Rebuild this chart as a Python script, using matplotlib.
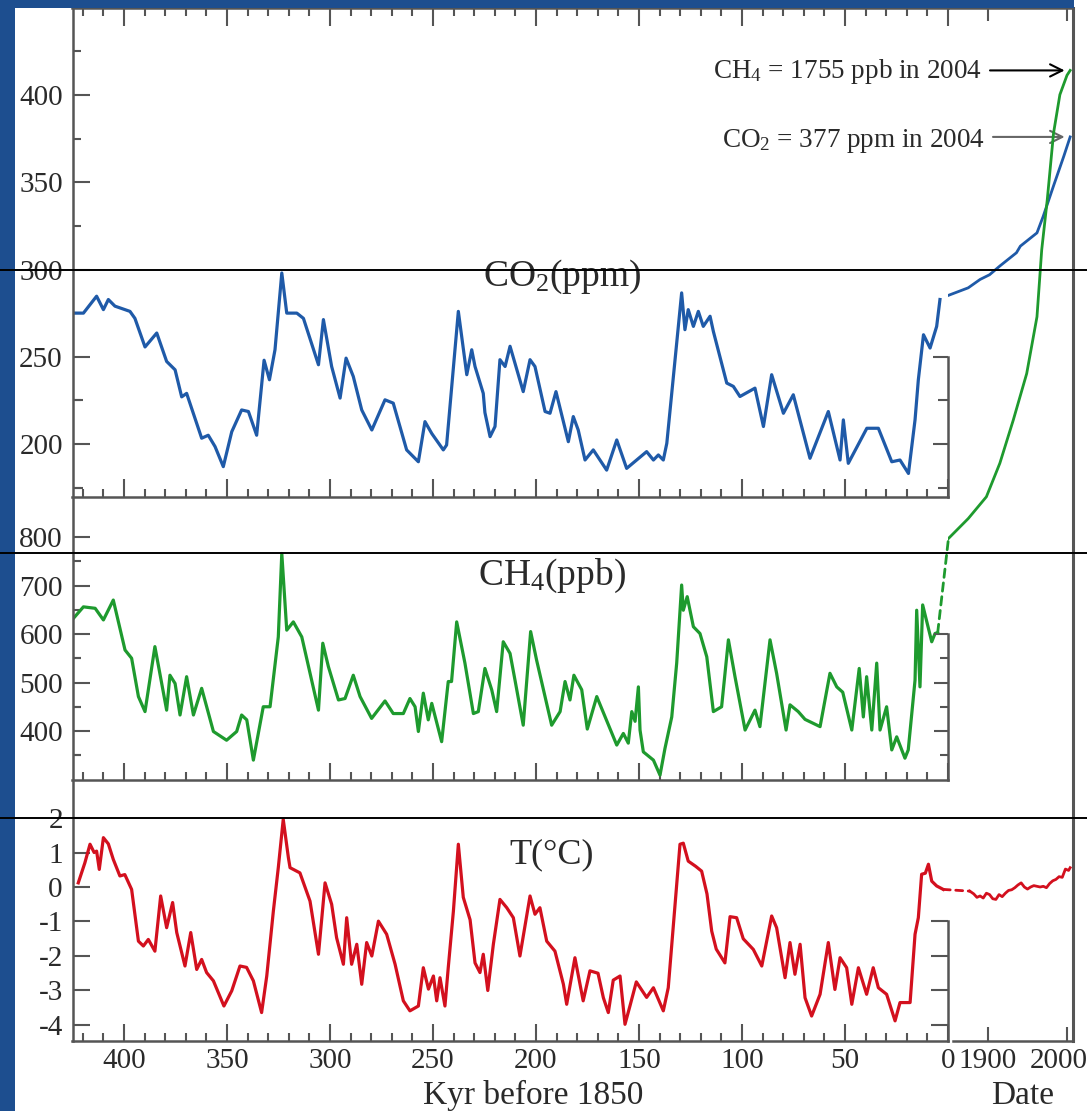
import matplotlib
matplotlib.use('Agg')
import matplotlib.pyplot as plt
from matplotlib.patches import Rectangle, ConnectionPatch
from matplotlib.lines import Line2D
from matplotlib.transforms import ScaledTranslation
from matplotlib.ticker import MultipleLocator, FixedLocator, FormatStrFormatter

plt.rcParams['font.family'] = ['Liberation Serif', 'DejaVu Serif']
plt.rcParams['mathtext.fontset'] = 'custom'
plt.rcParams['mathtext.rm'] = 'Liberation Serif'
plt.rcParams['mathtext.default'] = 'regular'
plt.rcParams['axes.unicode_minus'] = False

# ---------------- data ----------------
co2_kyr = [424.6, 419.7, 413.3, 410, 407.6, 404.4, 397.1, 394.7, 389.8, 384.1, 379.3, 375.2, 372, 369.6,
           362.3, 359.1, 355.8, 351.8, 347.7, 342.9, 339.6, 335.6, 332, 329.4, 326.7, 323.4, 321, 316.1,
           312.9, 305.6, 303.2, 299.2, 295.1, 292.2, 288.7, 284.6, 279.7, 273.3, 269.3, 262.8, 257.1,
           253.9, 250.6, 245, 243.4, 237.7, 233.6, 231.2, 229.6, 225.6, 224.8, 222.3, 219.9, 217.5, 215,
           212.6, 206.2, 202.9, 200.5, 195.6, 193.2, 190.3, 184.3, 181.9, 179.5, 176.2, 172.2, 165.7,
           160.8, 156, 146.3, 143, 140.6, 138.2, 136.5, 129.3, 127.7, 126.1, 123.6, 121.2, 118.8, 115.5,
           113.9, 107.4, 104.2, 101, 93.7, 89.6, 85.6, 79.9, 75.1, 67, 58.1, 52.4, 50.8, 48.4, 39.4, 33.8,
           27.3, 23.3, 19.2, 16, 14.4, 11.9, 8.7, 5.5, 3.9]
co2_ppm = [275, 275, 284.7, 277, 282.8, 279, 276, 272, 255.6, 263.6, 247.3, 242.5, 227, 229,
           203.3, 205, 198.5, 187, 207, 219.5, 218.6, 205, 248, 236.8, 254, 298, 275, 275,
           272, 245.4, 271.3, 244.4, 226.3, 249.2, 238.7, 219.5, 208, 225.3, 223.4, 196.6, 189.8,
           212.8, 206, 196.6, 199.4, 276, 239.7, 254, 244.4, 229, 218, 204.2, 210, 248.3, 244.4,
           256, 230, 248.3, 244.4, 218.6, 217.6, 230, 201.3, 215.7, 208, 190.8, 196.6, 185,
           202.3, 186, 195.6, 190.8, 193.7, 190.8, 200.4, 286.6, 265.5, 277, 267.4, 276, 267.4, 273.2,
           264.5, 234.9, 233, 227.2, 232, 210, 239.7, 217.6, 228.2, 191.8, 218.6, 190.8, 213.8, 188.9, 209, 209,
           189.8, 190.8, 183.1, 213.8, 236.8, 262.6, 255, 267.4, 282.8]

ch4_kyr = [424.6, 419.7, 414, 410, 405.2, 399.5, 396.3, 393, 389.8, 385, 379.3, 377.7, 375.2, 372.8,
           369.6, 366.3, 362.3, 356.6, 350.2, 345.3, 342.9, 340.4, 337.2, 332.4, 329.1, 325.1, 323.4,
           321, 317.8, 313.7, 305.6, 303.5, 300.8, 295.9, 292.7, 288.7, 285.4, 279.8, 273.3, 269.3,
           264.4, 261.2, 258.7, 257.1, 254.7, 252.3, 250.6, 245.8, 242.6, 241, 238.5, 234.5, 230.4,
           228, 224.8, 221.5, 219.1, 215.9, 212.6, 210.2, 206.2, 202.6, 199.7, 192.4, 188.3, 185.9,
           183.5, 181.6, 177.8, 175.1, 170.5, 160.8, 157.6, 155.2, 153.5, 151.9, 150.3, 149.5, 147.9,
           143, 139.8, 137.4, 134.1, 131.7, 129.3, 128.5, 126.6, 123.6, 120.4, 117.1, 113.9, 109.9,
           106.6, 103.4, 98.5, 93.7, 91.3, 86.4, 83.2, 78.6, 76.7, 72.7, 69.4, 62.1, 57.3, 54, 51.1,
           46.7, 43.1, 41.1, 39.5, 37, 34.6, 33, 29.8, 27.3, 24.9, 20.9, 19.3, 16, 15.2, 13.6, 12.3,
           7.9, 6.3, 5.0]
ch4_ppb = [632, 656, 653, 629, 670, 567, 550, 471, 440, 574, 443, 515, 498, 433,
           512, 433, 488, 399, 381, 399, 433, 423, 340, 450, 450, 594, 766,
           608, 625, 594, 443, 581, 533, 464, 467, 515, 471, 426, 462, 436,
           436, 467, 450, 399, 478, 423, 457, 378, 502, 502, 625, 540, 436,
           440, 529, 485, 440, 584, 560, 505, 412, 605, 546, 412, 440, 502,
           464, 515, 485, 404, 471, 371, 395, 375, 440, 420, 491, 402, 357,
           340, 309, 364, 429, 540, 701, 649, 677, 615, 601, 553, 440, 450,
           588, 512, 402, 443, 409, 588, 519, 402, 454, 440, 424, 409, 519, 491, 480,
           402, 529, 429, 512, 402, 540, 402, 450, 361, 388, 344, 361, 505, 649, 491, 660,
           584, 601, 603]

t_kyr = [422.2, 419, 416.5, 414.5, 413.3, 412, 410, 407.6, 405.2, 402, 399.6, 396.3, 393, 390.6,
         388.2, 385, 382.2, 379.3, 376.4, 374.4, 370.4, 367.6, 364.7, 362.3, 359.9, 356.6, 351.5,
         347.7, 343.7, 340.5, 337.2, 333.2, 330.7, 327.5, 325.1, 322.7, 320.2, 319.4, 314.6, 309.7,
         305.6, 302.4, 299.2, 296.8, 293.5, 291.9, 289.5, 287, 284.6, 282.2, 279.7, 276.5, 272.5,
         268.4, 264.4, 261.2, 257.1, 254.7, 252.2, 249.8, 248.2, 246.6, 244.2, 242.6, 240.1, 237.7,
         235.3, 232, 229.6, 227.2, 225.6, 223.4, 220.7, 217.5, 214.2, 211, 207.8, 202.9, 200.5,
         198.1, 194.8, 190.8, 186.7, 185.1, 181.1, 177.1, 173.8, 169.9, 167.3, 164.9, 162.5, 159.2,
         156.8, 154.4, 151.3, 146.3, 143, 138.2, 135.8, 130.1, 128.5, 126.1, 122.5, 119.6, 117,
         114.7, 112.5, 108.3, 105.8, 102.6, 99.4, 94.5, 90.4, 85.6, 83.2, 79.1, 76.7, 74.3, 71.8,
         69.4, 66.2, 62.1, 58.1, 54.9, 52.4, 49.2, 46.7, 43.5, 39.5, 36.3, 33.8, 29.8, 25.7, 23.3,
         18.4, 16, 14.4, 12.8, 11, 9.5, 7.9, 5.5, 2.3]
t_degc = [0.12, 0.7, 1.24, 1.0, 1.04, 0.51, 1.43, 1.25, 0.8, 0.32, 0.36, -0.07, -1.57, -1.71,
          -1.52, -1.86, -0.26, -1.18, -0.45, -1.32, -2.29, -1.32, -2.39, -2.1, -2.48, -2.72, -3.45,
          -3.01, -2.29, -2.33, -2.72, -3.64, -2.58, -0.7, 0.56, 1.96, 0.85, 0.56, 0.41, -0.41,
          -1.95, 0.12, -0.5, -1.47, -2.24, -0.89, -2.24, -1.66, -2.82, -1.61, -2.0, -0.99, -1.37,
          -2.24, -3.3, -3.59, -3.45, -2.34, -2.96, -2.58, -3.3, -2.63, -3.45, -2.34, -0.7, 1.24,
          -0.3, -0.95, -2.2, -2.48, -1.95, -3.0, -1.66, -0.36, -0.6, -0.89, -2.0, -0.26, -0.79,
          -0.6, -1.57, -1.86, -2.82, -3.4, -2.05, -3.3, -2.43, -2.5, -3.21, -3.64, -2.7, -2.58,
          -3.98, -3.45, -2.75, -3.2, -2.92, -3.59, -2.92, 1.24, 1.27, 0.75, 0.6, 0.46, -0.2,
          -1.28, -1.8, -2.2, -0.86, -0.89, -1.5, -1.81, -2.29, -0.84, -1.18, -2.63, -1.61, -2.53, -1.66,
          -3.21, -3.74, -3.11, -1.61, -2.97, -2.05, -2.34, -3.4, -2.34, -3.11, -2.34, -2.92, -3.11, -3.88, -3.35,
          -3.35, -1.37, -0.89, 0.37, 0.4, 0.66, 0.17, 0.03, -0.07]

co2_year = [1850, 1875, 1890, 1902, 1915, 1936, 1941, 1962, 1970, 1983, 1996, 2004]
co2_modern = [285.2, 289.5, 294.3, 297, 302, 309.6, 313.4, 321, 330.6, 348, 365, 376]

ch4_year = [1850, 1875, 1898, 1915, 1932, 1949, 1962, 1968, 1975, 1983, 1991, 2000, 2004]
ch4_modern = [797, 838, 883, 952, 1041, 1137, 1254, 1392, 1495, 1633, 1712, 1752, 1762]

t_year = [1877, 1882, 1886, 1890, 1894, 1898, 1902, 1906, 1910, 1914, 1918, 1922, 1926, 1930,
          1934, 1938, 1942, 1946, 1950, 1954, 1958, 1962, 1966, 1970, 1974, 1978, 1982, 1986,
          1990, 1994, 1998, 2002, 2004]
t_modern = [-0.12, -0.2, -0.3, -0.26, -0.32, -0.18, -0.22, -0.34, -0.36, -0.22, -0.28, -0.18, -0.1, -0.08,
            -0.02, 0.06, 0.12, 0.0, -0.06, 0.0, 0.04, 0.02, 0.0, 0.02, -0.02, 0.1, 0.18, 0.22,
            0.3, 0.28, 0.52, 0.48, 0.56]

kyr_labels = ['0', '50', '100', '150', '200', '250', '300', '350', '400']
date_labels = ['1900', '2000']

# ---------------- styling ----------------
BLUE_BG = '#1d4e8f'
C_CO2 = '#1f5aa8'
C_CH4 = '#1e9a2e'
C_T = '#d3101e'
SPINE = '#555555'
TXT = '#2a2a2a'
FS_TICK = 21

W, H = 1087, 1111
fig = plt.figure(figsize=(W / 100, H / 100), dpi=100)
fig.patch.set_facecolor('white')


def fx(x):
    return x / W


def fy(y):
    return 1 - y / H


def make_ax(x0, x1, y0, y1):
    ax = fig.add_axes([fx(x0), fy(y1), (x1 - x0) / W, (y1 - y0) / H])
    ax.patch.set_visible(False)
    for s in ax.spines.values():
        s.set_visible(False)
        s.set_color(SPINE)
        s.set_linewidth(1.8)
    ax.tick_params(which='both', direction='in', colors=SPINE, labelcolor=TXT,
                   labelsize=FS_TICK, width=1.5)
    ax.tick_params(which='major', length=12)
    ax.tick_params(which='minor', length=6)
    ax.tick_params(left=False, bottom=False, top=False, right=False,
                   labelleft=False, labelbottom=False)
    return ax


fig.patches.append(Rectangle((0, 0), fx(15), 1, transform=fig.transFigure,
                             facecolor=BLUE_BG, edgecolor='none', zorder=0))
fig.patches.append(Rectangle((0, fy(8)), fx(1074), 8 / H, transform=fig.transFigure,
                             facecolor=BLUE_BG, edgecolor='none', zorder=0))

KX0, KX1 = 72.5, 948
DX0, DX1 = 948, 1073
KYR_LIM = (425, 0)
DATE_LIM = (1849.4, 2007.6)
CO2_LIM = (169.6, 449.9)
CH4_LIM = (299, 1890.7)
T_LIM = (-4.464, 25.48)


def kyr_xticks(ax, where, labels=False):
    ax.xaxis.set_major_locator(MultipleLocator(50))
    ax.xaxis.set_minor_locator(MultipleLocator(10))
    if where == 'top':
        ax.tick_params(axis='x', which='both', top=True, labeltop=False)
        ax.tick_params(axis='x', which='major', length=13)
    else:
        ax.tick_params(axis='x', which='both', bottom=True, labelbottom=labels, pad=5)


def bracket(rect, ylim, major, minor, bounds, mlen, nlen):
    b = make_ax(*rect)
    b.set_xlim(KYR_LIM)
    b.set_ylim(ylim)
    b.spines['right'].set_visible(True)
    b.spines['right'].set_bounds(*bounds)
    b.yaxis.set_major_locator(FixedLocator(major))
    b.yaxis.set_minor_locator(FixedLocator(minor))
    b.tick_params(axis='y', which='both', right=True, labelright=False)
    b.tick_params(axis='y', which='major', length=mlen)
    b.tick_params(axis='y', which='minor', length=nlen)
    b.set_xticks([])
    return b


# ---- CO2 (ice core) ----
ax_co2 = make_ax(KX0, KX1, 8, 497)
ax_co2.set_xlim(KYR_LIM)
ax_co2.set_ylim(CO2_LIM)
ax_co2.spines['top'].set_visible(True)
ax_co2.spines['bottom'].set_visible(True)
kyr_xticks(ax_co2, 'top')
kyr_xticks(ax_co2, 'bottom')
ax_co2.yaxis.set_major_locator(FixedLocator([200, 250, 300, 350, 400]))
ax_co2.yaxis.set_minor_locator(FixedLocator([175, 225, 275, 325, 375, 425]))
ax_co2.yaxis.set_major_formatter(FormatStrFormatter('%d'))
ax_co2.tick_params(axis='y', which='both', left=True, labelleft=True, pad=7)
ax_co2.plot(co2_kyr, co2_ppm, color=C_CO2, lw=2.3, solid_joinstyle='round')
bracket((KX0, KX1, 8, 497), CO2_LIM, [200, 250], [175, 225], (CO2_LIM[0], 250), 11, 7)

# ---- CH4 (ice core) ----
ax_ch4 = make_ax(KX0, KX1, 8, 780)
ax_ch4.set_xlim(KYR_LIM)
ax_ch4.set_ylim(CH4_LIM)
ax_ch4.spines['bottom'].set_visible(True)
kyr_xticks(ax_ch4, 'bottom')
ax_ch4.yaxis.set_major_locator(FixedLocator([400, 500, 600, 700, 800]))
ax_ch4.yaxis.set_minor_locator(FixedLocator([350, 450, 550, 650, 750]))
ax_ch4.yaxis.set_major_formatter(FormatStrFormatter('%d'))
ax_ch4.tick_params(axis='y', which='both', left=True, labelleft=True, pad=7)
ax_ch4.plot(ch4_kyr, ch4_ppb, color=C_CH4, lw=2.3, solid_joinstyle='round')
bracket((KX0, KX1, 8, 780), CH4_LIM, [400, 500, 600], [350, 450, 550], (CH4_LIM[0], 600), 10, 6)

# ---- T (ice core) ----
ax_t = make_ax(KX0, KX1, 8, 1041)
ax_t.set_xlim(KYR_LIM)
ax_t.set_ylim(T_LIM)
ax_t.spines['left'].set_visible(True)
ax_t.spines['bottom'].set_visible(True)
kyr_xticks(ax_t, 'bottom', labels=True)
ax_t.set_xticks(range(0, 401, 50))
ax_t.set_xticklabels(kyr_labels)
ax_t.yaxis.set_major_locator(FixedLocator([-4, -3, -2, -1, 0, 1, 2]))
ax_t.yaxis.set_major_formatter(FormatStrFormatter('%d'))
ax_t.tick_params(axis='y', which='major', left=True, labelleft=True, pad=7)
ax_t.plot(t_kyr, t_degc, color=C_T, lw=2.3, solid_joinstyle='round')
bracket((KX0, KX1, 8, 1041), T_LIM, [-4, -3, -2, -1], [], (T_LIM[0], -1), 12, 6)

# ---- modern (date) panels ----
ax_co2d = make_ax(DX0, DX1, 8, 497)
ax_co2d.set_xlim(DATE_LIM)
ax_co2d.set_ylim(CO2_LIM)
ax_co2d.spines['top'].set_visible(True)
ax_co2d.set_xticks([1900, 2000])
ax_co2d.tick_params(axis='x', which='major', top=True, labeltop=False, length=9)
ax_co2d.set_yticks([])
ax_co2d.plot(co2_year, co2_modern, color=C_CO2, lw=2.0)

ax_ch4d = make_ax(DX0, DX1, 8, 780)
ax_ch4d.set_xlim(DATE_LIM)
ax_ch4d.set_ylim(CH4_LIM)
ax_ch4d.set_xticks([])
ax_ch4d.set_yticks([])
ax_ch4d.plot(ch4_year, ch4_modern, color=C_CH4, lw=2.0)

ax_td = make_ax(DX0, DX1, 8, 1041)
ax_td.set_xlim(DATE_LIM)
ax_td.set_ylim(T_LIM)
ax_td.spines['right'].set_visible(True)
ax_td.spines['right'].set_linewidth(2.2)
ax_td.spines['bottom'].set_visible(True)
ax_td.spines['bottom'].set_bounds(1855.7, DATE_LIM[1])
ax_td.set_xticks([1900, 2000])
ax_td.set_xticklabels(date_labels)
ax_td.tick_params(axis='x', which='major', bottom=True, labelbottom=True, length=10, pad=5)
ax_td.set_yticks([])
ax_td.plot(t_year, t_modern, color=C_T, lw=2.0)
# keep the last date label inside the picture
lab2000 = ax_td.get_xticklabels()[1]
lab2000.set_transform(lab2000.get_transform() + ScaledTranslation(-6 / 72, 0, fig.dpi_scale_trans))

# dashed links between ice core and modern records
fig.add_artist(ConnectionPatch(xyA=(ch4_kyr[-1], ch4_ppb[-1]), coordsA='data', axesA=ax_ch4,
                               xyB=(ch4_year[0], ch4_modern[0]), coordsB='data', axesB=ax_ch4d,
                               color=C_CH4, lw=2.0, linestyle=(0, (3, 2))))
fig.add_artist(ConnectionPatch(xyA=(t_kyr[-1], t_degc[-1]), coordsA='data', axesA=ax_t,
                               xyB=(t_year[0], t_modern[0]), coordsB='data', axesB=ax_td,
                               color=C_T, lw=2.0, linestyle=(0, (2.5, 2))))

# annotations
fig.text(fx(982), fy(72), 'CH$_4$ = 1755 ppb in 2004', ha='right', va='center',
         fontsize=19.5, color=TXT)
ax_ch4d.annotate('', xy=(ch4_year[-1], ch4_modern[-1]), xycoords='data',
                 xytext=(fx(990), ch4_modern[-1]), textcoords=('figure fraction', 'data'),
                 arrowprops=dict(arrowstyle='->', color='black', lw=1.5,
                                 shrinkA=0, shrinkB=4, mutation_scale=22))
fig.text(fx(985), fy(141), 'CO$_2$ = 377 ppm in 2004', ha='right', va='center',
         fontsize=19.5, color=TXT)
ax_co2d.annotate('', xy=(co2_year[-1], co2_modern[-1]), xycoords='data',
                 xytext=(fx(993), co2_modern[-1]), textcoords=('figure fraction', 'data'),
                 arrowprops=dict(arrowstyle='->', color='#666666', lw=1.5,
                                 shrinkA=0, shrinkB=4, mutation_scale=22))

# panel labels
fig.text(fx(562), fy(286), 'CO$_2$(ppm)', ha='center', va='baseline', fontsize=27, color=TXT)
fig.text(fx(552), fy(585), 'CH$_4$(ppb)', ha='center', va='baseline', fontsize=27, color=TXT)
fig.text(fx(552), fy(863), 'T(°C)', ha='center', va='baseline', fontsize=26, color=TXT)

# axis titles
fig.text(fx(533), fy(1104), 'Kyr before 1850', ha='center', va='baseline', fontsize=24, color=TXT)
fig.text(fx(1023), fy(1104), 'Date', ha='center', va='baseline', fontsize=24, color=TXT)

# horizontal black lines across the slide
for yy in (270, 553, 818):
    fig.add_artist(Line2D([0, 1], [fy(yy), fy(yy)], transform=fig.transFigure,
                          color='black', lw=1.4, zorder=20))

fig.savefig('out.png', dpi=100, facecolor=fig.get_facecolor())
